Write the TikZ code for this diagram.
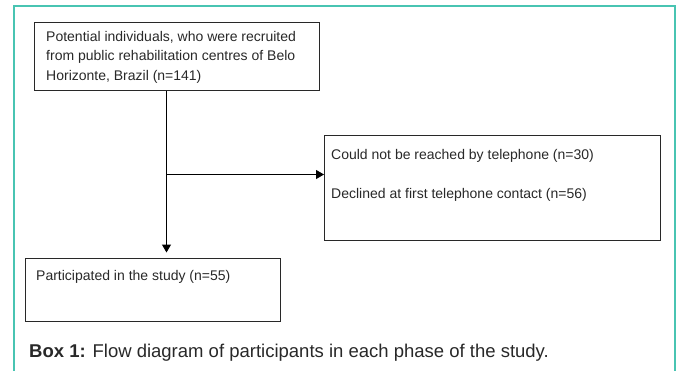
\documentclass[tikz,border=0pt]{standalone}
\usepackage{fontspec}
\setmainfont{Liberation Sans}
\usetikzlibrary{arrows.meta}
\definecolor{frameteal}{RGB}{72,196,178}
\definecolor{inkgray}{RGB}{40,40,40}
\begin{document}
\begin{tikzpicture}[x=1pt,y=-1pt,>={Triangle[length=8pt,width=9pt]},
    box/.style={draw=inkgray,line width=1pt,anchor=north west,inner sep=0pt},
    txt/.style={anchor=north west,inner sep=0pt,align=left,text=inkgray,
      font=\fontsize{14}{19.5}\selectfont},
    flow/.style={draw=black,line width=1.1pt}]
  \useasboundingbox (0,0) rectangle (677,370);
  % frame round the figure
  \draw[frameteal,line width=1.3pt] (14,372)--(14,6)--(675,6)--(675,372);
  % boxes
  \node[box,minimum width=285pt,minimum height=68pt] (recruited) at (34,22) {};
  \node[box,minimum width=336pt,minimum height=105pt] (excluded) at (324,135) {};
  \node[box,minimum width=255pt,minimum height=63pt] (included) at (25,258) {};
  % texts
  \node[txt] (recruitedtxt) at (46,31) {Potential individuals, who were recruited\\
    from public rehabilitation centres of Belo\\Horizonte, Brazil (n=141)};
  \node[txt] (notreached) at (331,149) {Could not be reached by telephone (n=30)};
  \node[txt] (declined) at (331,188) {Declined at first telephone contact (n=56)};
  \node[txt] (includedtxt) at (36,270) {Participated in the study (n=55)};
  \node[anchor=base west,inner sep=0pt,text=inkgray,font=\fontsize{18.5}{20}\selectfont]
    (caption) at (29,357) {\textbf{Box 1:} Flow diagram of participants in each phase of the study.};
  % connectors
  \coordinate (split) at (166.5,174.5);
  \draw[flow] (recruited.south -| split) -- (split);
  \draw[flow,->] (split) -- (split -| excluded.west);
  \draw[flow,->,shorten >=5.5pt] (split) -- (split |- included.north);
\end{tikzpicture}
\end{document}
